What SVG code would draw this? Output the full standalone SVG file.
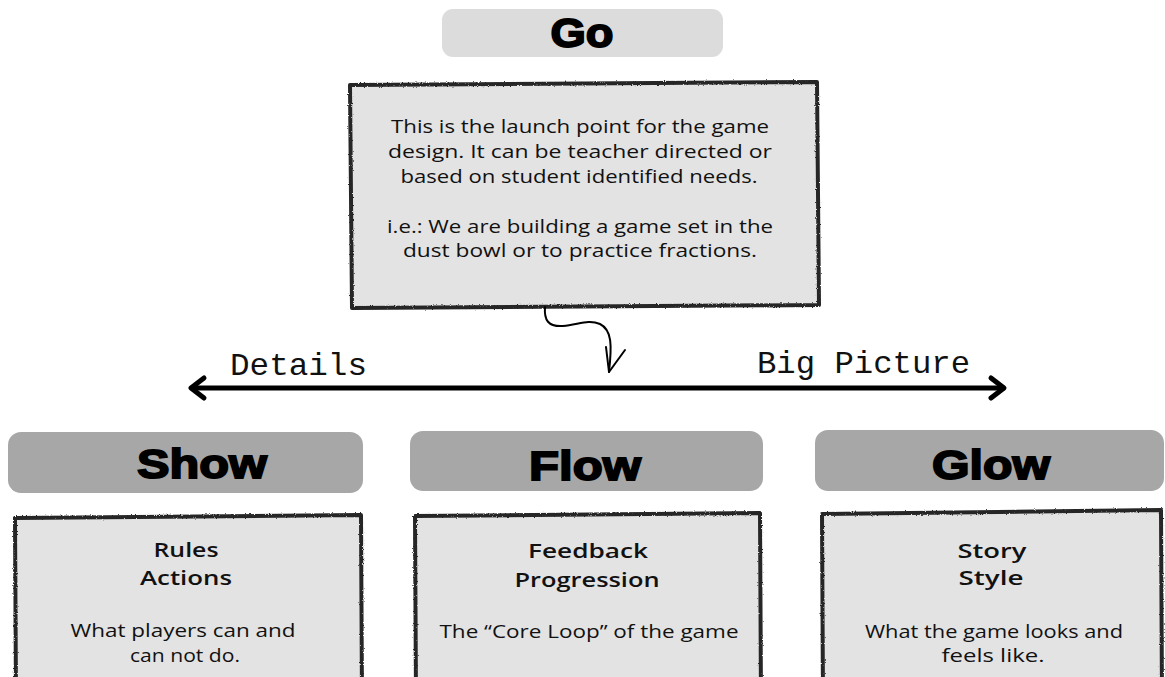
<svg xmlns="http://www.w3.org/2000/svg" width="1165" height="677" viewBox="0 0 1165 677">
  <style>
    .pillLight { fill: #dcdcdc; }
    .pillDark { fill: #a7a7a7; }
    .title { font-family: "Liberation Sans", Arial, sans-serif; font-weight: bold; font-size: 41px; fill: #000; text-anchor: middle; stroke: #000; stroke-width: 1.8px; }
    .box { fill: #e3e3e3; stroke: #262626; stroke-width: 4px; stroke-linejoin: round; }
    .body { font-family: "Open Sans", "Noto Sans", sans-serif; font-size: 17.5px; fill: #111; text-anchor: middle; }
    .head { font-family: "Open Sans", "Noto Sans", sans-serif; font-size: 20px; font-weight: 600; fill: #111; text-anchor: middle; }
    .axis { font-family: "Liberation Mono", "Courier New", monospace; font-size: 32px; fill: #111; }
    .line { fill: none; stroke: #000; stroke-linecap: round; stroke-linejoin: round; }
  </style>
  <defs>
    <filter id="rough" x="-5%" y="-5%" width="110%" height="110%">
      <feTurbulence type="fractalNoise" baseFrequency="0.9" numOctaves="2" seed="3" result="n"/>
      <feDisplacementMap in="SourceGraphic" in2="n" scale="2.5" xChannelSelector="R" yChannelSelector="G"/>
    </filter>
  </defs>
  <rect width="1165" height="677" fill="#ffffff"/>

  <g id="go">
    <rect class="pillLight" x="442" y="9" width="281" height="48" rx="11"/>
    <text class="title" x="582" y="47" textLength="63" lengthAdjust="spacingAndGlyphs">Go</text>
  </g>

  <g id="launch">
    <path class="box" filter="url(#rough)" d="M350,85 L817,82 L819,305 L352,308 Z"/>
    <text class="body" x="580" y="133" textLength="378" lengthAdjust="spacingAndGlyphs">This is the launch point for the game</text>
    <text class="body" x="580" y="158" textLength="384" lengthAdjust="spacingAndGlyphs">design. It can be teacher directed or</text>
    <text class="body" x="579" y="183" textLength="357" lengthAdjust="spacingAndGlyphs">based on student identified needs.</text>
    <text class="body" x="580" y="233" textLength="386" lengthAdjust="spacingAndGlyphs">i.e.: We are building a game set in the</text>
    <text class="body" x="580" y="257" textLength="354" lengthAdjust="spacingAndGlyphs">dust bowl or to practice fractions.</text>
  </g>

  <g id="connectors">
    <path class="line" stroke-width="2" d="M545,307 C544,320 548,327 563,326 C578,325 588,319 600,324 C612,330 612,345 609,372"/>
    <path class="line" stroke-width="2" d="M606,347 L609,372 L625,350"/>
    <path class="line" stroke-width="5" d="M192,388 L1003,388"/>
    <path class="line" stroke-width="5" d="M204,378 L191,388 L204,398"/>
    <path class="line" stroke-width="5" d="M991,378 L1004,388 L991,398"/>
  </g>

  <g id="axis-labels">
    <text class="axis" x="230" y="375" textLength="137" lengthAdjust="spacingAndGlyphs">Details</text>
    <text class="axis" x="757" y="373" textLength="213" lengthAdjust="spacingAndGlyphs">Big Picture</text>
  </g>

  <g id="show">
    <rect class="pillDark" x="8" y="432" width="355" height="61" rx="13"/>
    <text class="title" x="202" y="478" textLength="130" lengthAdjust="spacingAndGlyphs">Show</text>
  </g>
  <g id="show-box">
    <path class="box" filter="url(#rough)" d="M15,518 L361,515 L362,700 L16,700 Z"/>
    <text class="head" x="186" y="557" textLength="65" lengthAdjust="spacingAndGlyphs">Rules</text>
    <text class="head" x="186" y="585" textLength="92" lengthAdjust="spacingAndGlyphs">Actions</text>
    <text class="body" x="183" y="637" textLength="225" lengthAdjust="spacingAndGlyphs">What players can and</text>
    <text class="body" x="185" y="662" textLength="110" lengthAdjust="spacingAndGlyphs">can not do.</text>
  </g>

  <g id="flow">
    <rect class="pillDark" x="410" y="431" width="353" height="60" rx="13"/>
    <text class="title" x="585" y="480" textLength="112" lengthAdjust="spacingAndGlyphs">Flow</text>
  </g>
  <g id="flow-box">
    <path class="box" filter="url(#rough)" d="M415,516 L760,513 L761,700 L416,700 Z"/>
    <text class="head" x="588" y="558" textLength="120" lengthAdjust="spacingAndGlyphs">Feedback</text>
    <text class="head" x="587" y="587" textLength="145" lengthAdjust="spacingAndGlyphs">Progression</text>
    <text class="body" x="589" y="638" textLength="299" lengthAdjust="spacingAndGlyphs">The “Core Loop” of the game</text>
  </g>

  <g id="glow">
    <rect class="pillDark" x="815" y="430" width="349" height="61" rx="13"/>
    <text class="title" x="991" y="479" textLength="118" lengthAdjust="spacingAndGlyphs">Glow</text>
  </g>
  <g id="glow-box">
    <path class="box" filter="url(#rough)" d="M822,514 L1161,510 L1162,700 L823,700 Z"/>
    <text class="head" x="992" y="558" textLength="69" lengthAdjust="spacingAndGlyphs">Story</text>
    <text class="head" x="991" y="585" textLength="65" lengthAdjust="spacingAndGlyphs">Style</text>
    <text class="body" x="994" y="638" textLength="258" lengthAdjust="spacingAndGlyphs">What the game looks and</text>
    <text class="body" x="993" y="662" textLength="103" lengthAdjust="spacingAndGlyphs">feels like.</text>
  </g>
</svg>
